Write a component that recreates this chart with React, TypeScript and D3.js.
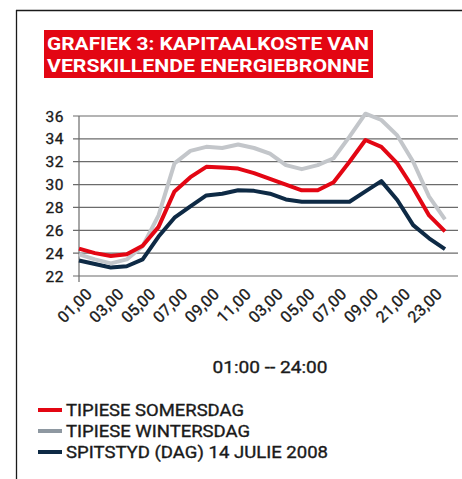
import * as d3 from "d3";

const hours = [1, 2, 3, 4, 5, 6, 7, 8, 9, 10, 11, 12, 13, 14, 15, 16, 17, 18, 19, 20, 21, 22, 23, 24];
const tickHours = [1, 3, 5, 7, 9, 11, 13, 15, 17, 19, 21, 23];
const tickLabels = ["01,00", "03,00", "05,00", "07,00", "09,00", "11,00", "03,00", "05,00", "07,00", "09,00", "21,00", "23,00"];
const yTicks = [22, 24, 26, 28, 30, 32, 34, 36];

// TIPIESE SOMERSDAG
const summer = [24.4, 24.0, 23.75, 23.9, 24.65, 26.3, 29.4, 30.65, 31.55, 31.5, 31.4, 31.0, 30.5, 30.0, 29.5, 29.5, 30.2, 32.0, 33.9, 33.3, 31.85, 29.7, 27.3, 25.9];
// TIPIESE WINTERSDAG
const winter = [23.9, 23.45, 23.1, 23.45, 24.6, 27.3, 31.85, 32.95, 33.3, 33.2, 33.5, 33.2, 32.7, 31.7, 31.35, 31.7, 32.3, 34.2, 36.2, 35.65, 34.3, 32.0, 28.95, 26.95];
// SPITSTYD (DAG) 14 JULIE 2008
const peak = [23.35, 23.05, 22.75, 22.85, 23.45, 25.45, 27.1, 28.1, 29.05, 29.2, 29.5, 29.45, 29.2, 28.7, 28.5, 28.5, 28.5, 28.5, 29.4, 30.3, 28.65, 26.45, 25.3, 24.35];

const seriesNames = ["TIPIESE SOMERSDAG", "TIPIESE WINTERSDAG", "SPITSTYD (DAG) 14 JULIE 2008"];
const titleLines = ["GRAFIEK 3: KAPITAALKOSTE VAN", "VERSKILLENDE ENERGIEBRONNE"];

const RED = "#e30613";
const GREY = "#c3c6ca";
const GREY_KEY = "#8e98a1";
const NAVY = "#0e2a45";
const INK = "#1a1a1a";

const W = 462;
const H = 479;
const font = "Roboto, 'Open Sans', sans-serif";

export default function App() {
  const x = d3.scaleLinear().domain([1, 24]).range([79, 445]);
  const y = d3.scaleLinear().domain([22, 36]).range([276, 116]);

  const line = d3
    .line<number>()
    .x((_, i) => x(hours[i]))
    .y((d) => y(d));

  const lines = [
    { data: peak, color: NAVY },
    { data: winter, color: GREY },
    { data: summer, color: RED },
  ];

  const legend = [
    { name: seriesNames[0], color: RED, len: 178 },
    { name: seriesNames[1], color: GREY_KEY, len: 184 },
    { name: seriesNames[2], color: NAVY, len: 262 },
  ];

  // light stroke to thicken the regular weight a little
  const medium = { stroke: INK, strokeWidth: 0.35 };

  return (
    <svg
      width={W}
      height={H}
      style={{ position: "absolute", left: 0, top: 0, background: "#fff" }}
      fontFamily={font}
    >
      {/* frame */}
      <line x1={16.5} x2={16.5} y1={10} y2={H} stroke={INK} strokeWidth={1.3} />
      <line x1={16} x2={W} y1={10.5} y2={10.5} stroke={INK} strokeWidth={1.3} />

      {/* title */}
      <rect x={44} y={30} width={329} height={48} fill={RED} />
      {titleLines.map((t, i) => (
        <text
          key={t}
          x={47}
          y={50 + i * 22}
          fill="#fff"
          fontWeight={700}
          fontSize={19}
          textLength={322}
          lengthAdjust="spacingAndGlyphs"
        >
          {t}
        </text>
      ))}

      {/* grid + y axis */}
      {yTicks.map((t) => (
        <g key={t}>
          <line x1={73} x2={458} y1={y(t)} y2={y(t)} stroke="#6b6b6b" strokeWidth={1.2} />
          <text x={64} y={y(t)} dy="0.36em" textAnchor="end" fontSize={15.5} fill={INK} letterSpacing={0.6} {...medium}>
            {t}
          </text>
        </g>
      ))}
      <line x1={79} x2={79} y1={116} y2={282} stroke="#6b6b6b" strokeWidth={1.2} />

      {/* x labels */}
      {tickHours.map((h, i) => (
        <text
          key={i}
          transform={`translate(${x(h) + 14},295) rotate(-45)`}
          textAnchor="end"
          fontSize={16}
          fill={INK}
          letterSpacing={0.3}
          {...medium}
        >
          {tickLabels[i]}
        </text>
      ))}

      <text
        x={270}
        y={373}
        textAnchor="middle"
        fontSize={17}
        fill={INK}
        textLength={115}
        lengthAdjust="spacingAndGlyphs"
        {...medium}
      >
        01:00 -- 24:00
      </text>

      {/* lines */}
      {lines.map((l, i) => (
        <path
          key={i}
          d={line(l.data) ?? ""}
          fill="none"
          stroke={l.color}
          strokeWidth={4}
          strokeLinejoin="round"
        />
      ))}

      {/* legend */}
      {legend.map((l, i) => (
        <g key={l.name} transform={`translate(38,${410 + i * 21})`}>
          <line x1={0} x2={24} y1={0} y2={0} stroke={l.color} strokeWidth={4} />
          <text
            x={28}
            y={6}
            fontSize={16.5}
            fill={INK}
            textLength={l.len}
            lengthAdjust="spacingAndGlyphs"
            {...medium}
          >
            {l.name}
          </text>
        </g>
      ))}
    </svg>
  );
}
